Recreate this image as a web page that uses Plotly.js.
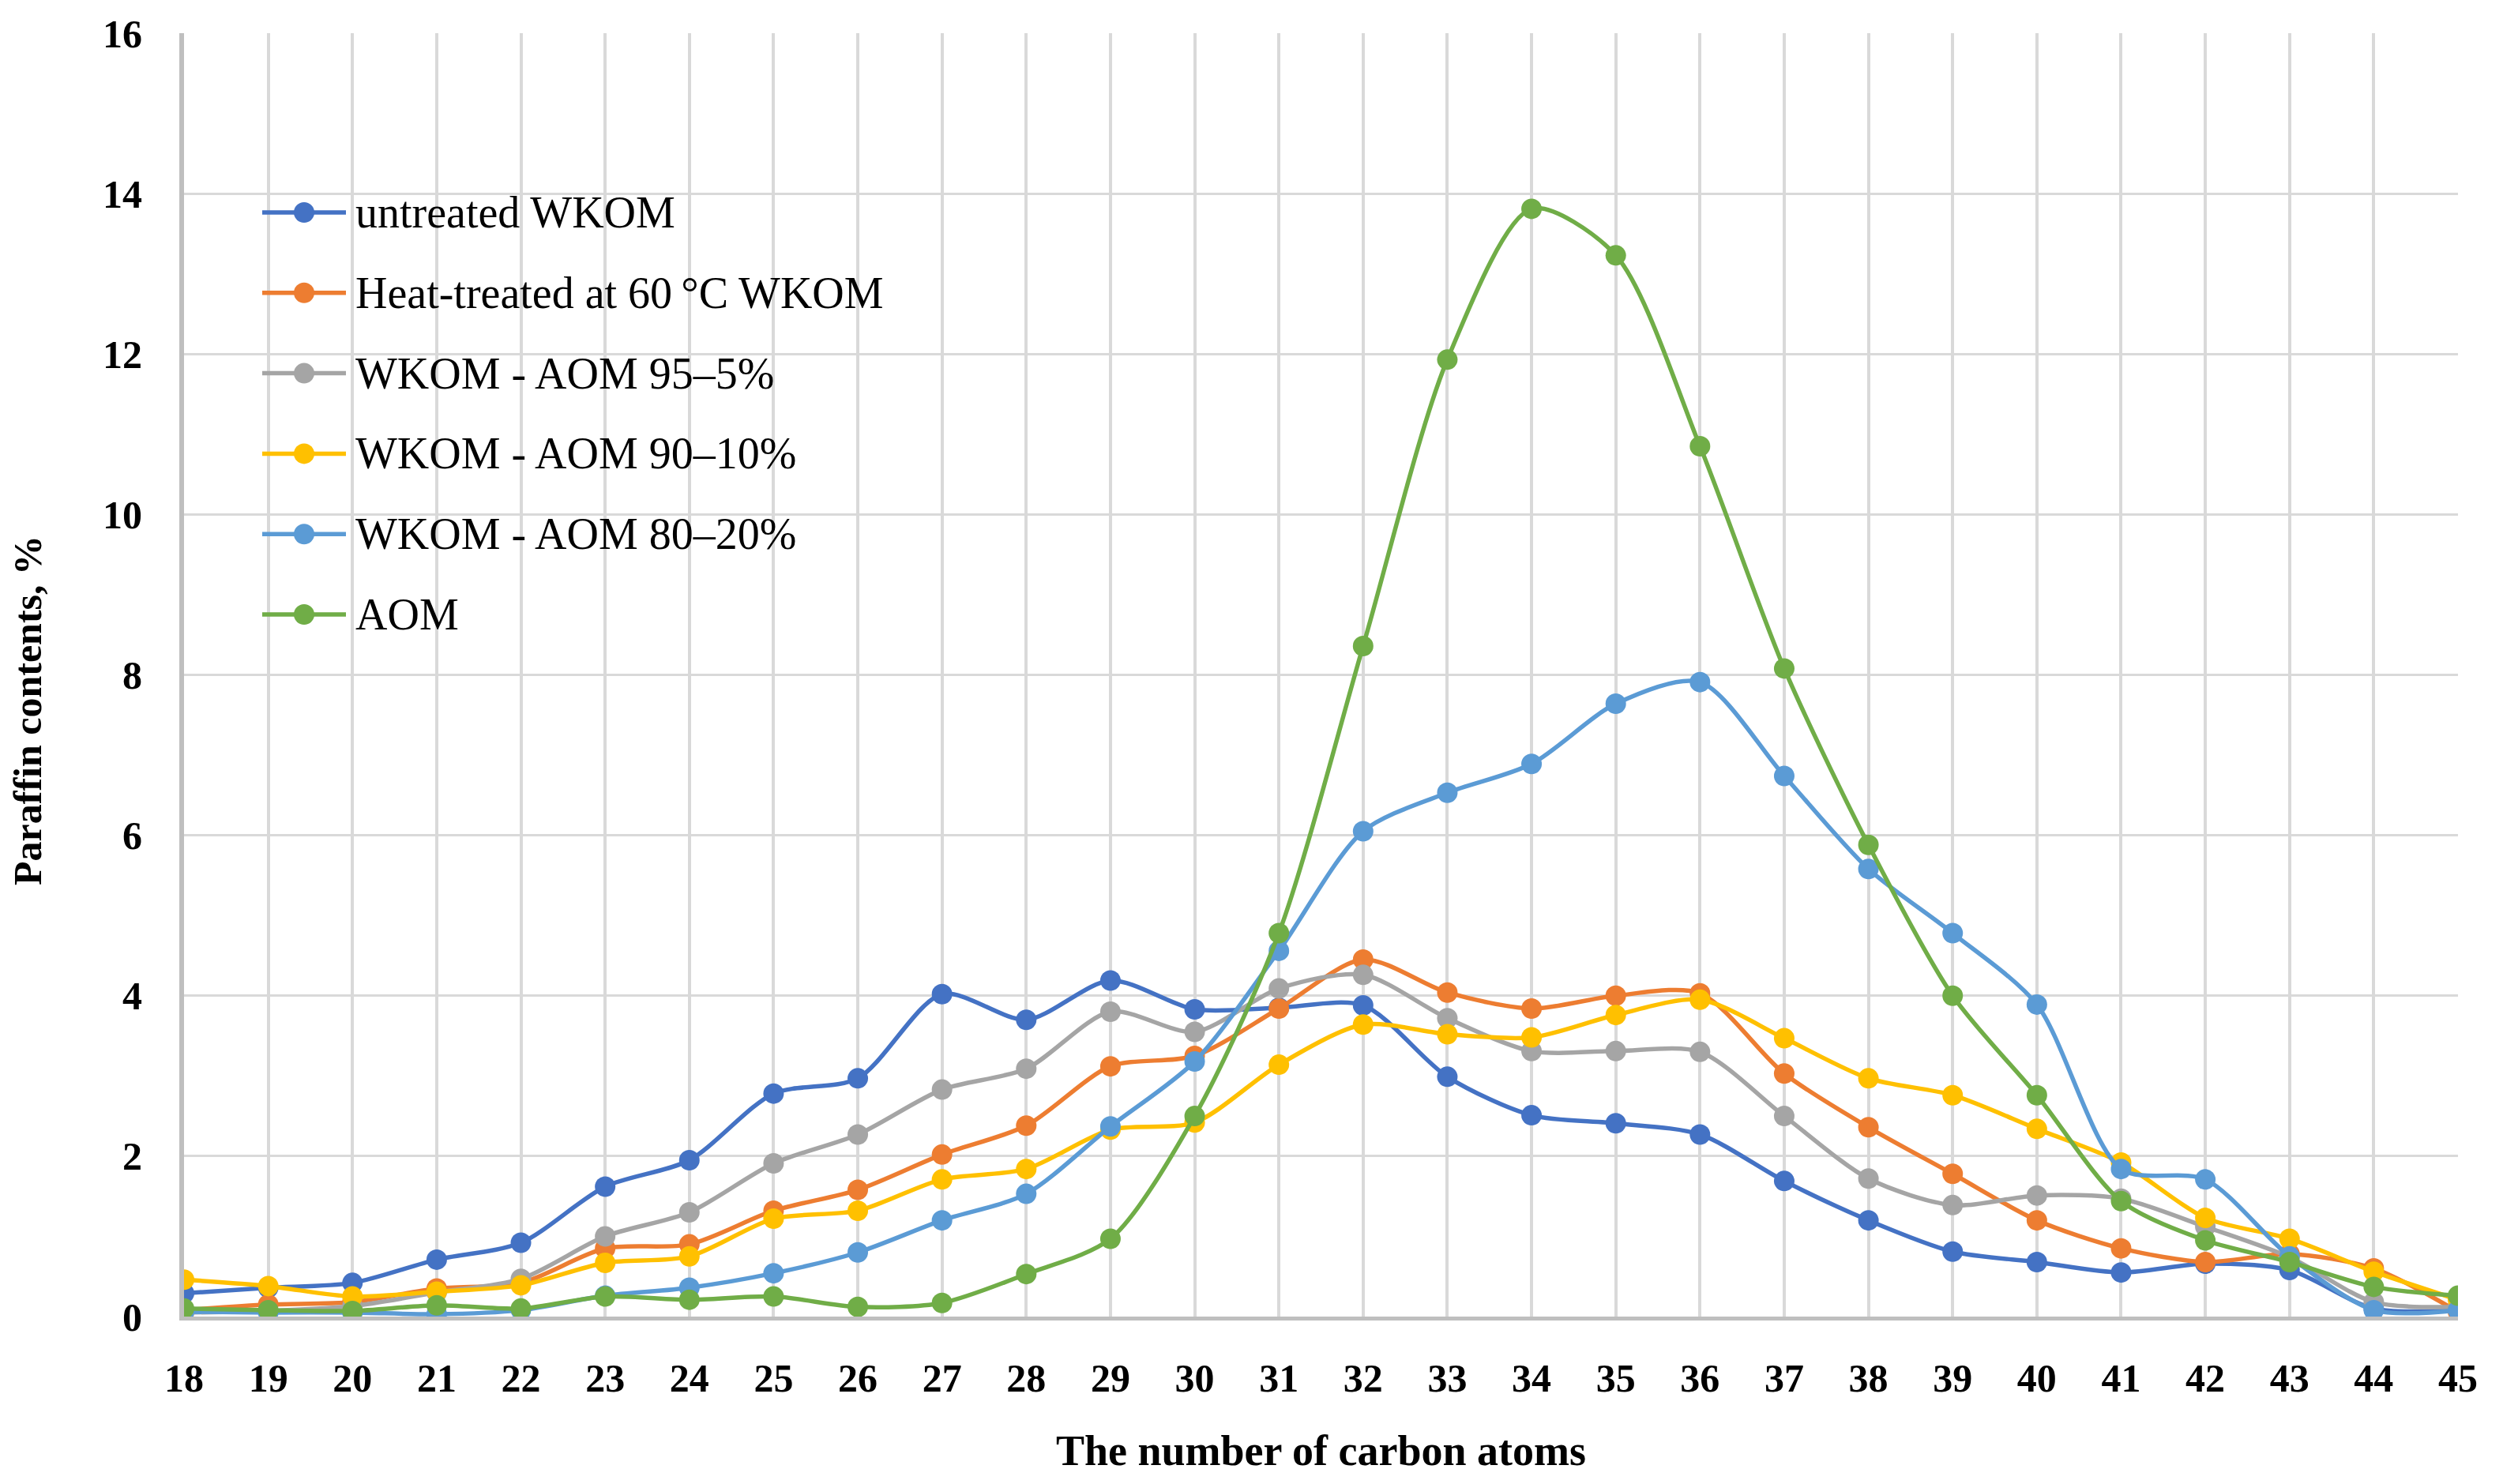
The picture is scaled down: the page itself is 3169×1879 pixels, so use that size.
<!DOCTYPE html>
<html>
<head>
<meta charset="utf-8">
<script src="https://cdn.plot.ly/plotly-3.0.1.min.js"></script>
<style>html,body{margin:0;padding:0;background:#fff;}#chart{width:3169px;height:1879px;}</style>
</head>
<body>
<div id="chart"></div>
<script>
const carbonAtoms = [18,19,20,21,22,23,24,25,26,27,28,29,30,31,32,33,34,35,36,37,38,39,40,41,42,43,44,45];

const untreatedWKOM = [0.29,0.36,0.42,0.71,0.92,1.62,1.95,2.78,2.97,4.02,3.70,4.19,3.83,3.85,3.88,2.99,2.51,2.41,2.27,1.69,1.20,0.81,0.68,0.55,0.66,0.58,0.10,0.08];
const heatTreatedWKOM = [0.08,0.15,0.18,0.35,0.42,0.85,0.90,1.32,1.58,2.02,2.38,3.12,3.25,3.84,4.45,4.04,3.84,4.00,4.03,3.03,2.36,1.78,1.20,0.85,0.68,0.78,0.60,0.06];
const wkomAom95 = [0.05,0.07,0.13,0.30,0.47,1.00,1.30,1.91,2.27,2.83,3.09,3.80,3.55,4.09,4.26,3.72,3.31,3.31,3.30,2.50,1.72,1.39,1.51,1.47,1.12,0.74,0.18,0.12];
const wkomAom90 = [0.46,0.38,0.25,0.31,0.39,0.67,0.75,1.22,1.32,1.71,1.84,2.33,2.42,3.14,3.64,3.52,3.48,3.76,3.95,3.47,2.97,2.76,2.34,1.92,1.23,0.97,0.56,0.21];
const wkomAom80 = [0.06,0.05,0.05,0.03,0.08,0.26,0.36,0.54,0.80,1.20,1.53,2.37,3.18,4.56,6.05,6.53,6.89,7.64,7.91,6.74,5.58,4.78,3.89,1.84,1.71,0.75,0.08,0.08];
const aom = [0.10,0.08,0.07,0.14,0.10,0.25,0.21,0.25,0.12,0.17,0.53,0.97,2.50,4.78,8.36,11.93,13.81,13.23,10.85,8.08,5.88,4.00,2.76,1.44,0.95,0.68,0.37,0.26];

const seriesNames = ["untreated WKOM","Heat-treated at 60\u2009°C WKOM","WKOM - AOM 95\u20135%","WKOM - AOM 90\u201310%","WKOM - AOM 80\u201320%","AOM"];
const seriesValues = [untreatedWKOM, heatTreatedWKOM, wkomAom95, wkomAom90, wkomAom80, aom];
const seriesColors = ["#4472C4","#ED7D31","#A5A5A5","#FFC000","#5B9BD5","#70AD47"];

const traces = seriesValues.map((vals, i) => ({
  x: carbonAtoms,
  y: vals,
  name: seriesNames[i],
  type: "scatter",
  mode: "lines+markers",
  showlegend: false,
  line: {color: seriesColors[i], width: 5.5, shape: "spline", smoothing: 0.8},
  marker: {color: seriesColors[i], size: 26}
}));

const serif = "Liberation Serif, Times New Roman, serif";

// plot area geometry (pixels) used for the hand-drawn legend
const W = 3169, H = 1879;
const M = {l: 233, r: 57, t: 42, b: 212};
const PW = W - M.l - M.r, PH = H - M.t - M.b;
const px = v => (v - M.l) / PW;
const py = v => (H - M.b - v) / PH;

const shapes = [];
const annotations = [];

// legend background
shapes.push({type: "rect", xref: "paper", yref: "paper", layer: "between",
  x0: px(317), x1: px(1168), y0: py(813), y1: py(234),
  fillcolor: "#ffffff", line: {width: 0}});

const rowTop = 269, rowStep = 101.8;
seriesNames.forEach((name, i) => {
  const yc = rowTop + i * rowStep;
  shapes.push({type: "line", xref: "paper", yref: "paper", layer: "above",
    x0: px(332), x1: px(438), y0: py(yc), y1: py(yc),
    line: {color: seriesColors[i], width: 5.5}});
  const r = 13;
  shapes.push({type: "circle", xref: "paper", yref: "paper", layer: "above",
    x0: px(385 - r), x1: px(385 + r), y0: py(yc + r), y1: py(yc - r),
    fillcolor: seriesColors[i], line: {width: 0}});
  annotations.push({text: name, xref: "paper", yref: "paper", x: px(448), y: py(yc),
    xanchor: "left", yanchor: "middle", showarrow: false,
    font: {family: serif, size: 56, color: "#000000"}});
});

annotations.push(
  {text: "<b>The number of carbon atoms</b>", xref: "paper", yref: "paper", x: 0.5, y: 0, yshift: -170,
   xanchor: "center", yanchor: "middle", showarrow: false, font: {family: serif, size: 54, color: "#000"}},
  {text: "<b>Paraffin contents, %</b>", xref: "paper", yref: "paper", x: 0, y: 0.472, xshift: -198,
   xanchor: "center", yanchor: "middle", textangle: -90, showarrow: false, font: {family: serif, size: 50, color: "#000"}}
);

const layout = {
  width: W,
  height: H,
  paper_bgcolor: "#ffffff",
  plot_bgcolor: "#ffffff",
  margin: M,
  showlegend: false,
  xaxis: {
    range: [18, 45],
    tickmode: "array",
    tickvals: carbonAtoms,
    ticktext: carbonAtoms.map(String),
    showgrid: true,
    gridcolor: "#d9d9d9",
    gridwidth: 4,
    zeroline: false,
    showline: true,
    linecolor: "#bfbfbf",
    linewidth: 5,
    ticks: "",
    ticklabelstandoff: 30,
    tickfont: {family: serif, size: 50, color: "#000000", weight: "bold"}
  },
  yaxis: {
    range: [0, 16],
    dtick: 2,
    showgrid: true,
    gridcolor: "#d9d9d9",
    gridwidth: 3,
    zeroline: false,
    showline: true,
    linecolor: "#bfbfbf",
    linewidth: 6,
    ticks: "",
    ticklabelstandoff: 37,
    tickfont: {family: serif, size: 50, color: "#000000", weight: "bold"}
  },
  shapes: shapes,
  annotations: annotations
};

Plotly.newPlot("chart", traces, layout, {displayModeBar: false, staticPlot: true});
</script>
</body>
</html>
